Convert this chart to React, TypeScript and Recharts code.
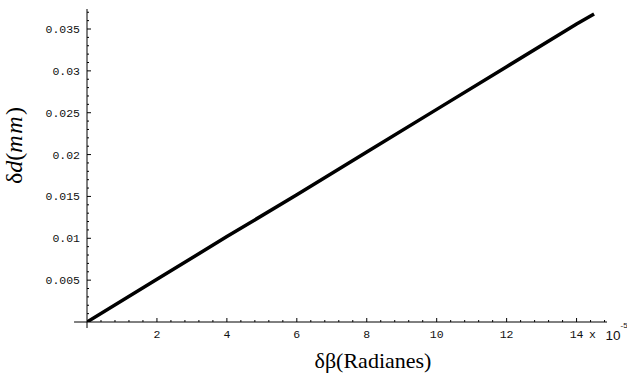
import { LineChart, Line, XAxis, YAxis, ReferenceLine, Label } from "recharts";

// δβ in units of 10^-5 rad, δd in mm
const betaValues = [0, 2, 4, 6, 8, 10, 12, 14, 14.5];
const deltaDValues = [0, 0.0051, 0.0102, 0.0152, 0.0203, 0.0254, 0.0305, 0.0356, 0.0368];

const xMajorTicks = [2, 4, 6, 8, 10, 12, 14];
const yMajorTicks = [0.005, 0.01, 0.015, 0.02, 0.025, 0.03, 0.035];
const yTickLabels = ["0.005", "0.01", "0.015", "0.02", "0.025", "0.03", "0.035"];

const X_MAX = 14.87;
const Y_MAX = 0.03739;
const X_OVERHANG = -0.37;
const Y_OVERHANG = -0.00072;

// minor tick marks (no labels), majors are part of these
const xMinorTicks = Array.from({ length: 37 }, (_, i) => +((i + 1) * 0.4).toFixed(1));
const yMinorTicks = Array.from({ length: 37 }, (_, i) => +((i + 1) * 0.001).toFixed(3));

const data = betaValues.map((b, i) => ({ beta: b, d: deltaDValues[i] }));

const MONO = "'Liberation Mono', 'DejaVu Sans Mono', monospace";
const SERIF = "'Liberation Serif', 'DejaVu Serif', serif";
const SANS = "'Liberation Sans', Arial, sans-serif";

const isIn = (list: number[], v: number) => list.findIndex((t) => Math.abs(t - v) < 1e-9);

function XTick(props: any) {
  const { x, y, payload } = props;
  const v = payload.value;
  const idx = isIn(xMajorTicks, v);
  const major = idx >= 0;
  const last = idx === xMajorTicks.length - 1;
  return (
    <g>
      <line x1={x} x2={x} y1={y} y2={y - (major ? 4 : 2)} stroke="#000" strokeWidth={1} />
      {major && (
        <text x={x} y={y + 16} textAnchor="middle" fontFamily={MONO} fontSize={11.5} fill="#111">
          {String(v)}
        </text>
      )}
      {last && (
        <g>
          <text x={x + 16} y={y + 16} textAnchor="middle" fontFamily={MONO} fontSize={11.5} fill="#111">
            x
          </text>
          <text x={x + 29} y={y + 18} fontFamily={SANS} fontSize={13.5} fill="#111">
            10
          </text>
          <text x={x + 44} y={y + 6} fontFamily={SANS} fontSize={8} fill="#111">
            -5
          </text>
        </g>
      )}
    </g>
  );
}

function YTick(props: any) {
  const { x, y, payload } = props;
  const v = payload.value;
  const idx = isIn(yMajorTicks, v);
  const major = idx >= 0;
  return (
    <g>
      <line x1={x} x2={x + (major ? 4 : 2)} y1={y} y2={y} stroke="#000" strokeWidth={1} />
      {major && (
        <text x={x - 7} y={y} dy="0.35em" textAnchor="end" fontFamily={MONO} fontSize={11.5} fill="#111">
          {yTickLabels[idx]}
        </text>
      )}
    </g>
  );
}

function XTitle(props: any) {
  const vb = props.viewBox || { x: 87, y: 322, width: 520, height: 54 };
  return (
    <text x={vb.x + vb.width / 2 + 26} y={vb.y + 46} textAnchor="middle" fontFamily={SERIF} fontSize={22} fill="#000">
      δβ(Radianes)
    </text>
  );
}

function YTitle(props: any) {
  const vb = props.viewBox || { x: 0, y: 9, width: 87, height: 313 };
  const cx = vb.x + 22;
  const cy = vb.y + vb.height / 2 - 20;
  return (
    <text x={cx} y={cy} transform={`rotate(-90 ${cx} ${cy})`} textAnchor="middle" fontFamily={SERIF} fontSize={24} fill="#000">
      δ<tspan fontStyle="italic">d</tspan>(<tspan fontStyle="italic" letterSpacing={1.5}>mm</tspan>)
    </text>
  );
}

export default function App() {
  return (
    <div style={{ position: "absolute", left: 0, top: 0, width: 627, height: 376, background: "#fff" }}>
      <LineChart width={627} height={376} data={data} margin={{ top: 9, right: 20, left: 0, bottom: 0 }}>
        <XAxis
          dataKey="beta"
          type="number"
          domain={[0, X_MAX]}
          allowDataOverflow
          ticks={xMinorTicks}
          interval={0}
          tick={<XTick />}
          tickLine={false}
          axisLine={false}
          tickSize={0}
          tickMargin={0}
          height={54}
        >
          <Label content={<XTitle />} />
        </XAxis>
        <YAxis
          type="number"
          domain={[0, Y_MAX]}
          allowDataOverflow
          ticks={yMinorTicks}
          interval={0}
          tick={<YTick />}
          tickLine={false}
          axisLine={false}
          tickSize={0}
          tickMargin={0}
          width={87}
        >
          <Label content={<YTitle />} />
        </YAxis>
        <ReferenceLine
          segment={[
            { x: X_OVERHANG, y: 0 },
            { x: X_MAX, y: 0 },
          ]}
          ifOverflow="visible"
          stroke="#000"
          strokeWidth={1}
        />
        <ReferenceLine
          segment={[
            { x: 0, y: Y_OVERHANG },
            { x: 0, y: Y_MAX },
          ]}
          ifOverflow="visible"
          stroke="#000"
          strokeWidth={1}
        />
        <Line
          type="linear"
          dataKey="d"
          stroke="#000"
          strokeWidth={3.5}
          dot={false}
          activeDot={false}
          isAnimationActive={false}
        />
      </LineChart>
    </div>
  );
}
